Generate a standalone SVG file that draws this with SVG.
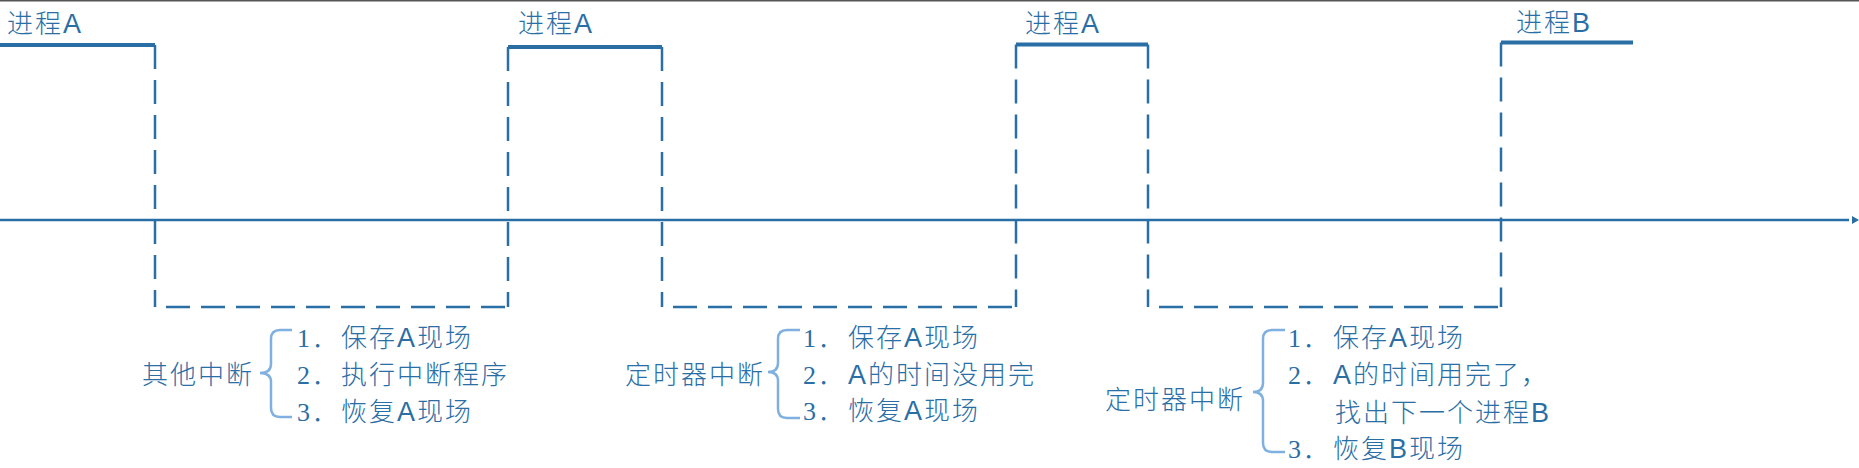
<svg xmlns="http://www.w3.org/2000/svg" width="1859" height="468" viewBox="0 0 1859 468">
<style>
.solid{fill:none;stroke:#2a6ea6;stroke-width:4}
.dash{fill:none;stroke:#2a6ea6;stroke-width:2.5;stroke-dasharray:24 11}
.dashh{fill:none;stroke:#2a6ea6;stroke-width:2.5;stroke-dasharray:24 11;stroke-dashoffset:24}
.axis{fill:none;stroke:#2a6ea6;stroke-width:2.5}
.brace{fill:none;stroke:#7fb0e0;stroke-width:2.5}
.t{font-family:"Noto Sans CJK SC",sans-serif;font-size:26px;font-weight:300;fill:#2a6ea6;letter-spacing:2px}
.lat{font-family:"Liberation Sans",sans-serif;font-weight:400;font-size:27px}
.num{font-family:"Liberation Serif","Noto Sans CJK SC",serif}
</style>
<rect x="0" y="0" width="1859" height="1.5" fill="#555"/>
<g id="connectors">
<line class="axis" x1="0" y1="220" x2="1849" y2="220"/>
<polygon points="1852,216 1859,220 1852,224" fill="#2a6ea6"/>
<path class="solid" d="M0,45 H155"/>
<path class="solid" d="M508,47 H662"/>
<path class="solid" d="M1016,44.5 H1148"/>
<path class="solid" d="M1501,42.5 H1633"/>
<path class="dash" d="M155,45 V307"/>
<path class="dash" d="M508,47 V307"/>
<path class="dash" d="M662,47 V307"/>
<path class="dash" d="M1016,44.5 V307"/>
<path class="dash" d="M1148,44.5 V307"/>
<path class="dash" d="M1501,42.5 V307"/>
<path class="dashh" d="M155,307 H508"/>
<path class="dashh" d="M662,307 H1016"/>
<path class="dashh" d="M1148,307 H1501"/>
</g>
<g id="label-a1"><text class="t" x="7" y="33">进程<tspan class="lat">A</tspan></text></g>
<g id="label-a2"><text class="t" x="518" y="33">进程<tspan class="lat">A</tspan></text></g>
<g id="label-a3"><text class="t" x="1025" y="33">进程<tspan class="lat">A</tspan></text></g>
<g id="label-b"><text class="t" x="1516" y="32">进程<tspan class="lat">B</tspan></text></g>
<g id="note1">
<text class="t" x="142" y="384">其他中断</text>
<path class="brace" d="M292,330 H280 Q271,330 271,339 V364 Q271,373 260,373 Q271,373 271,382 V408 Q271,417 280,417 H292"/>
<text class="t" y="347"><tspan class="num" x="297">1</tspan><tspan>．</tspan><tspan x="341">保存<tspan class="lat">A</tspan>现场</tspan></text>
<text class="t" y="384"><tspan class="num" x="297">2</tspan><tspan>．</tspan><tspan x="341">执行中断程序</tspan></text>
<text class="t" y="421"><tspan class="num" x="297">3</tspan><tspan>．</tspan><tspan x="341">恢复<tspan class="lat">A</tspan>现场</tspan></text>
</g>
<g id="note2">
<text class="t" x="625" y="384">定时器中断</text>
<path class="brace" d="M800,330 H787 Q778,330 778,339 V363 Q778,372 768,372 Q778,372 778,381 V409 Q778,418 787,418 H800"/>
<text class="t" y="347"><tspan class="num" x="803">1</tspan><tspan>．</tspan><tspan x="848">保存<tspan class="lat">A</tspan>现场</tspan></text>
<text class="t" y="384"><tspan class="num" x="803">2</tspan><tspan>．</tspan><tspan x="848"><tspan class="lat">A</tspan>的时间没用完</tspan></text>
<text class="t" y="420"><tspan class="num" x="803">3</tspan><tspan>．</tspan><tspan x="848">恢复<tspan class="lat">A</tspan>现场</tspan></text>
</g>
<g id="note3">
<text class="t" x="1105" y="409">定时器中断</text>
<path class="brace" d="M1285,330 H1272 Q1263,330 1263,339 V383 Q1263,392 1253,392 Q1263,392 1263,401 V443 Q1263,452 1272,452 H1285"/>
<text class="t" y="347"><tspan class="num" x="1288">1</tspan><tspan>．</tspan><tspan x="1333">保存<tspan class="lat">A</tspan>现场</tspan></text>
<text class="t" y="384"><tspan class="num" x="1288">2</tspan><tspan>．</tspan><tspan x="1333"><tspan class="lat">A</tspan>的时间用完了，</tspan></text>
<text class="t" x="1335" y="422">找出下一个进程<tspan class="lat">B</tspan></text>
<text class="t" y="458"><tspan class="num" x="1288">3</tspan><tspan>．</tspan><tspan x="1333">恢复<tspan class="lat">B</tspan>现场</tspan></text>
</g>
</svg>
